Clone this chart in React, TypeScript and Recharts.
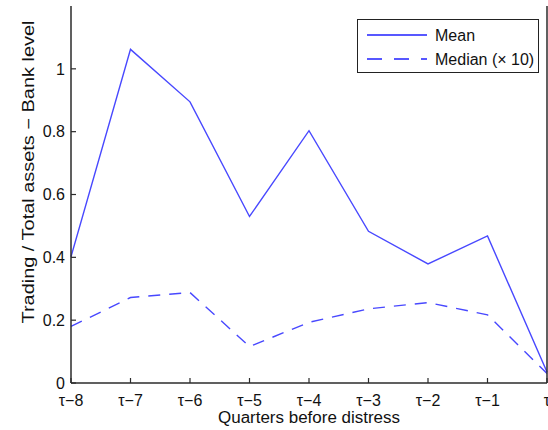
import React from 'react';
import { LineChart, Line, XAxis, YAxis, Legend, Label } from 'recharts';

const quarters = ['τ−8', 'τ−7', 'τ−6', 'τ−5', 'τ−4', 'τ−3', 'τ−2', 'τ−1', 'τ'];
const meanValues = [0.402, 1.062, 0.895, 0.53, 0.803, 0.483, 0.379, 0.468, 0.035];
const medianValues = [0.18, 0.272, 0.288, 0.116, 0.193, 0.236, 0.256, 0.217, 0.03];
const yTicks = [0, 0.2, 0.4, 0.6, 0.8, 1];
const seriesNames = ['Mean', 'Median (× 10)'];

const data = quarters.map((q, i) => ({ q, mean: meanValues[i], median: medianValues[i] }));

const FONT = '"Liberation Sans", Arial, Helvetica, sans-serif';
const LINE_COLOR = '#4848ff';
const AXIS_COLOR = '#2b2b2b';
const TEXT_COLOR = '#111';
const TICK_LEN = 5;
const X_MARGIN = 10;
const Y_MARGIN = 6;

const BottomTick = (props: any) => {
  const { x, y, payload } = props;
  const axisY = y - X_MARGIN;
  return (
    <g>
      <line x1={x} x2={x} y1={axisY} y2={axisY - TICK_LEN} stroke={AXIS_COLOR} strokeWidth={1.2} />
      <text x={x} y={y} dy={13} textAnchor="middle" fontFamily={FONT} fontSize={16} fill={TEXT_COLOR}>
        {payload.value}
      </text>
    </g>
  );
};

const TopTick = (props: any) => {
  const { x, y } = props;
  return <line x1={x} x2={x} y1={y} y2={y + TICK_LEN} stroke={AXIS_COLOR} strokeWidth={1.2} />;
};

const LeftTick = (props: any) => {
  const { x, y, payload } = props;
  const axisX = x + Y_MARGIN;
  return (
    <g>
      <line x1={axisX} x2={axisX + TICK_LEN} y1={y} y2={y} stroke={AXIS_COLOR} strokeWidth={1.2} />
      <text x={x} y={y} dy="0.36em" textAnchor="end" fontFamily={FONT} fontSize={16} fill={TEXT_COLOR}>
        {String(payload.value)}
      </text>
    </g>
  );
};

const RightTick = (props: any) => {
  const { x, y } = props;
  return <line x1={x} x2={x - TICK_LEN} y1={y} y2={y} stroke={AXIS_COLOR} strokeWidth={1.2} />;
};

const LegendBox = () => (
  <div
    style={{
      position: 'absolute',
      left: 357,
      top: 19,
      width: 182,
      height: 54,
      boxSizing: 'border-box',
      border: '1.3px solid #222',
      background: '#fff',
    }}
  >
    <svg width={180} height={52} style={{ display: 'block' }}>
      <line x1={9} x2={69} y1={15} y2={15} stroke="#2020ff" strokeWidth={1.3} />
      <text x={77} y={15} dy="0.36em" fontFamily={FONT} fontSize={16} fill={TEXT_COLOR}>
        {seriesNames[0]}
      </text>
      <line x1={9} x2={69} y1={39} y2={39} stroke="#2020ff" strokeWidth={1.3} strokeDasharray="15 12" />
      <text x={77} y={39} dy="0.36em" fontFamily={FONT} fontSize={16} fill={TEXT_COLOR}>
        {seriesNames[1]}
      </text>
    </svg>
  </div>
);

export default function App() {
  return (
    <div style={{ position: 'absolute', left: 0, top: 0, width: 548, height: 430, background: '#fff' }}>
      <LineChart
        width={548}
        height={430}
        data={data}
        margin={{ top: 6, right: 0, bottom: 0, left: 0 }}
      >
        <XAxis
          dataKey="q"
          type="category"
          interval={0}
          height={47}
          padding={{ left: 0, right: 0 }}
          axisLine={{ stroke: AXIS_COLOR, strokeWidth: 1.5 }}
          tickLine={false}
          tickSize={0}
          tickMargin={X_MARGIN}
          tick={<BottomTick />}
        >
          <Label
            content={(p: any) => {
              const vb = p.viewBox;
              return (
                <text
                  x={vb.x + vb.width / 2}
                  y={vb.y + 40}
                  textAnchor="middle"
                  fontFamily={FONT}
                  fontSize={16}
                  fill={TEXT_COLOR}
                  textLength={182}
                  lengthAdjust="spacingAndGlyphs"
                >
                  Quarters before distress
                </text>
              );
            }}
          />
        </XAxis>
        <XAxis
          xAxisId="top"
          dataKey="q"
          orientation="top"
          interval={0}
          height={0}
          axisLine={{ stroke: AXIS_COLOR, strokeWidth: 1.5 }}
          tickLine={false}
          tickSize={0}
          tickMargin={0}
          tick={<TopTick />}
        />
        <YAxis
          type="number"
          domain={[0, 1.2]}
          ticks={yTicks}
          width={71}
          axisLine={{ stroke: AXIS_COLOR, strokeWidth: 1.5 }}
          tickLine={false}
          tickSize={0}
          tickMargin={Y_MARGIN}
          tick={<LeftTick />}
          allowDataOverflow
        >
          <Label
            content={() => (
              <text
                x={0}
                y={0}
                transform="translate(34 172) rotate(-90)"
                textAnchor="middle"
                fontFamily={FONT}
                fontSize={16}
                fill={TEXT_COLOR}
                textLength={303}
                lengthAdjust="spacingAndGlyphs"
              >
                Trading / Total assets − Bank level
              </text>
            )}
          />
        </YAxis>
        <YAxis
          yAxisId="right"
          orientation="right"
          type="number"
          domain={[0, 1.2]}
          ticks={yTicks}
          width={1}
          axisLine={{ stroke: AXIS_COLOR, strokeWidth: 1.5 }}
          tickLine={false}
          tickSize={0}
          tickMargin={0}
          tick={<RightTick />}
        />
        <Legend
          layout="horizontal"
          align="center"
          verticalAlign="middle"
          wrapperStyle={{ position: 'absolute', left: 0, top: 0, width: 0, height: 0 }}
          content={() => <LegendBox />}
        />
        <Line
          type="linear"
          dataKey="mean"
          name={seriesNames[0]}
          stroke={LINE_COLOR}
          strokeWidth={1.4}
          dot={false}
          isAnimationActive={false}
        />
        <Line
          type="linear"
          dataKey="median"
          name={seriesNames[1]}
          stroke={LINE_COLOR}
          strokeWidth={1.4}
          strokeDasharray="12 9"
          dot={false}
          isAnimationActive={false}
        />
      </LineChart>
    </div>
  );
}
